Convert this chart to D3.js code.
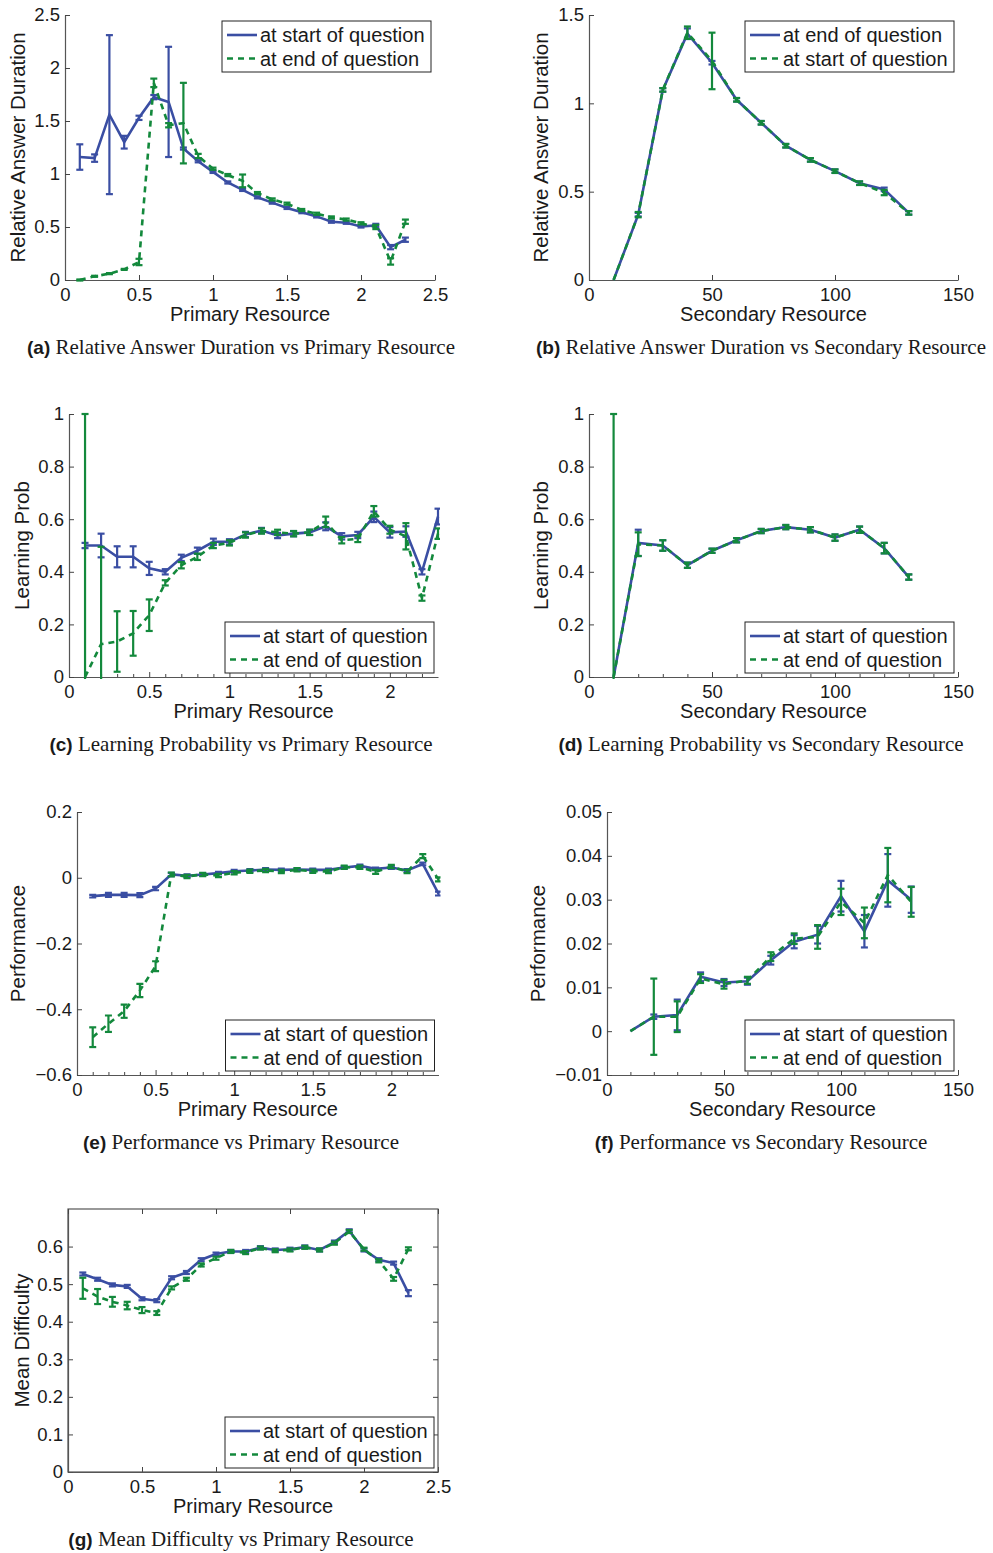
<!DOCTYPE html>
<html>
<head>
<meta charset="utf-8">
<script src="https://cdn.jsdelivr.net/npm/d3@7"></script>
<style>
  body { margin: 0; background: #fff; }
  svg { display: block; }
  .tick text { font-family: "Liberation Sans", Arial, sans-serif; }
</style>
</head>
<body>
<svg id="chart" width="993" height="1553"></svg>
<script>
// x positions
const primaryX = [0.1, 0.2, 0.3, 0.4, 0.5, 0.6, 0.7, 0.8, 0.9, 1.0, 1.1, 1.2,
                  1.3, 1.4, 1.5, 1.6, 1.7, 1.8, 1.9, 2.0, 2.1, 2.2, 2.3];
const secondaryX = [10, 20, 30, 40, 50, 60, 70, 80, 90, 100, 110, 120, 130];

// (a) relative answer duration vs primary
const durPrimStart    = [1.16, 1.15, 1.56, 1.30, 1.53, 1.725, 1.68, 1.24, 1.12, 1.02, 0.92, 0.85,
                         0.78, 0.73, 0.68, 0.64, 0.60, 0.55, 0.54, 0.505, 0.515, 0.31, 0.38];
const durPrimStartErr = [0.12, 0.035, 0.75, 0.06, 0.02, 0.02, 0.52, 0.01, 0.01, 0.01, 0.01, 0.01,
                         0.01, 0.01, 0.01, 0.01, 0.01, 0.01, 0.01, 0.01, 0.015, 0.02, 0.02];
const durPrimEnd      = [0.0, 0.035, 0.06, 0.10, 0.17, 1.86, 1.46, 1.48, 1.17, 1.05, 0.99, 0.935,
                         0.82, 0.76, 0.72, 0.66, 0.625, 0.59, 0.57, 0.535, 0.50, 0.175, 0.55];
const durPrimEndErr   = [0.005, 0.005, 0.005, 0.005, 0.03, 0.04, 0.02, 0.38, 0.02, 0.01, 0.01, 0.06,
                         0.01, 0.01, 0.01, 0.01, 0.01, 0.01, 0.01, 0.01, 0.02, 0.03, 0.02];

// (b) relative answer duration vs secondary
const durSecEnd      = [0, 0.37, 1.076, 1.394, 1.23, 1.02, 0.89, 0.76, 0.68, 0.616, 0.548, 0.513, 0.38];
const durSecEndErr   = [0, 0.01, 0.01, 0.03, 0.01, 0.01, 0.01, 0.01, 0.01, 0.01, 0.01, 0.01, 0.01];
const durSecStart    = [0, 0.37, 1.076, 1.40, 1.24, 1.02, 0.89, 0.76, 0.68, 0.616, 0.548, 0.495, 0.38];
const durSecStartErr = [0, 0.015, 0.01, 0.035, 0.16, 0.01, 0.01, 0.01, 0.01, 0.01, 0.01, 0.015, 0.01];

// (c) learning probability vs primary
const learnPrimStart    = [0.50, 0.50, 0.457, 0.457, 0.413, 0.40, 0.453, 0.48, 0.514, 0.514, 0.542, 0.557,
                           0.538, 0.545, 0.55, 0.573, 0.535, 0.54, 0.609, 0.55, 0.553, 0.40, 0.61];
const learnPrimStartErr = [0.01, 0.045, 0.04, 0.04, 0.025, 0.01, 0.012, 0.012, 0.012, 0.01, 0.01, 0.01,
                           0.01, 0.01, 0.01, 0.015, 0.012, 0.012, 0.02, 0.02, 0.02, 0.01, 0.03];
const learnPrimEnd      = [0.0, 0.125, 0.135, 0.166, 0.235, 0.358, 0.425, 0.457, 0.50, 0.51, 0.54, 0.555,
                           0.55, 0.545, 0.55, 0.59, 0.52, 0.525, 0.63, 0.56, 0.535, 0.30, 0.545];
const learnPrimEndErr   = [1.0, 0.37, 0.115, 0.085, 0.06, 0.01, 0.012, 0.012, 0.01, 0.01, 0.01, 0.01,
                           0.01, 0.01, 0.01, 0.02, 0.012, 0.012, 0.02, 0.015, 0.05, 0.01, 0.02];

// (d) learning probability vs secondary
const learnSecStart    = [0, 0.51, 0.50, 0.425, 0.48, 0.52, 0.555, 0.57, 0.56, 0.53, 0.56, 0.49, 0.38];
const learnSecStartErr = [0, 0.05, 0.02, 0.01, 0.008, 0.008, 0.008, 0.008, 0.01, 0.012, 0.012, 0.02, 0.01];
const learnSecEnd      = [0, 0.505, 0.50, 0.425, 0.48, 0.52, 0.555, 0.57, 0.56, 0.53, 0.56, 0.49, 0.38];
const learnSecEndErr   = [1.0, 0.045, 0.02, 0.01, 0.008, 0.008, 0.008, 0.008, 0.01, 0.012, 0.012, 0.02, 0.01];

// (e) performance vs primary
const perfPrimStart    = [-0.056, -0.052, -0.052, -0.053, -0.033, 0.01, 0.006, 0.01, 0.014, 0.02, 0.022, 0.025,
                          0.024, 0.025, 0.024, 0.024, 0.031, 0.036, 0.027, 0.031, 0.022, 0.042, -0.048];
const perfPrimStartErr = [0.004, 0.006, 0.006, 0.006, 0.005, 0.005, 0.004, 0.004, 0.004, 0.004, 0.004, 0.004,
                          0.004, 0.004, 0.004, 0.004, 0.004, 0.004, 0.004, 0.004, 0.004, 0.004, 0.006];
const perfPrimEnd      = [-0.485, -0.444, -0.406, -0.343, -0.269, 0.01, 0.004, 0.01, 0.007, 0.015, 0.02, 0.022,
                          0.019, 0.024, 0.02, 0.019, 0.032, 0.032, 0.018, 0.034, 0.019, 0.066, -0.005];
const perfPrimEndErr   = [0.03, 0.025, 0.02, 0.02, 0.015, 0.006, 0.005, 0.005, 0.005, 0.005, 0.005, 0.005,
                          0.005, 0.005, 0.005, 0.005, 0.005, 0.005, 0.006, 0.005, 0.005, 0.006, 0.006];

// (f) performance vs secondary
const perfSecStart    = [0, 0.0033, 0.0037, 0.0124, 0.0111, 0.0114, 0.0162, 0.0204, 0.022, 0.0308, 0.0228, 0.0344, 0.030];
const perfSecStartErr = [0, 0.0005, 0.0035, 0.001, 0.0008, 0.0008, 0.001, 0.0015, 0.002, 0.0035, 0.0037, 0.006, 0.003];
const perfSecEnd      = [0, 0.0033, 0.0033, 0.012, 0.0107, 0.0116, 0.017, 0.0211, 0.0215, 0.0295, 0.0247, 0.0356, 0.0295];
const perfSecEndErr   = [0, 0.0087, 0.0035, 0.001, 0.001, 0.0008, 0.001, 0.0012, 0.0027, 0.003, 0.0035, 0.0062, 0.0034];

// (g) mean difficulty vs primary
const diffPrimStart    = [0.527, 0.513, 0.498, 0.494, 0.461, 0.456, 0.517, 0.531, 0.565, 0.58, 0.587, 0.587,
                          0.597, 0.591, 0.593, 0.599, 0.591, 0.612, 0.642, 0.591, 0.565, 0.556, 0.476];
const diffPrimStartErr = [0.004, 0.004, 0.004, 0.004, 0.004, 0.004, 0.004, 0.004, 0.004, 0.004, 0.004, 0.004,
                          0.004, 0.004, 0.004, 0.004, 0.004, 0.004, 0.004, 0.004, 0.004, 0.004, 0.008];
const diffPrimEnd      = [0.489, 0.467, 0.453, 0.443, 0.431, 0.423, 0.49, 0.513, 0.551, 0.569, 0.587, 0.584,
                          0.596, 0.589, 0.591, 0.598, 0.591, 0.609, 0.64, 0.593, 0.562, 0.514, 0.594];
const diffPrimEndErr   = [0.028, 0.02, 0.013, 0.01, 0.008, 0.005, 0.004, 0.004, 0.004, 0.004, 0.004, 0.004,
                          0.004, 0.004, 0.004, 0.004, 0.004, 0.004, 0.004, 0.004, 0.004, 0.005, 0.004];

const primTicks = [0, 0.5, 1, 1.5, 2, 2.5],
      primTicksShort = [0, 0.5, 1, 1.5, 2],
      primMinor = [0.1, 0.2, 0.3, 0.4, 0.6, 0.7, 0.8, 0.9, 1.1, 1.2, 1.3, 1.4, 1.6, 1.7, 1.8, 1.9, 2.1, 2.2],
      secTicks = [0, 50, 100, 150],
      secMinor = [10, 20, 30, 40, 60, 70, 80, 90, 110, 120, 130, 140];

const START = 'at start of question', END = 'at end of question';

const BLUE = '#3a4ea3', GREEN = '#13893c',
      SANS = '"Liberation Sans", Arial, Helvetica, sans-serif',
      SERIF = '"Liberation Serif", "Times New Roman", serif';

const panels = [
  { tag: '(a)', caption: 'Relative Answer Duration vs Primary Resource',
    box: [65, 15, 435, 280], x: [0, 2.5], xTicks: primTicks, y: [0, 2.5], yTicks: [0, 0.5, 1, 1.5, 2, 2.5],
    xLabel: 'Primary Resource', yLabel: 'Relative Answer Duration', yLabelX: 18, legend: 'top',
    xs: primaryX,
    series: [
      { name: START, v: durPrimStart, e: durPrimStartErr, color: BLUE },
      { name: END, v: durPrimEnd, e: durPrimEndErr, color: GREEN, dashed: true }] },
  { tag: '(b)', caption: 'Relative Answer Duration vs Secondary Resource',
    box: [589, 15, 958, 280], x: [0, 150], xTicks: secTicks, y: [0, 1.5], yTicks: [0, 0.5, 1, 1.5],
    xLabel: 'Secondary Resource', yLabel: 'Relative Answer Duration', yLabelX: 541, legend: 'top',
    xs: secondaryX,
    series: [
      { name: END, v: durSecEnd, e: durSecEndErr, color: BLUE },
      { name: START, v: durSecStart, e: durSecStartErr, color: GREEN, dashed: true }] },
  { tag: '(c)', caption: 'Learning Probability vs Primary Resource',
    box: [69, 414, 438, 677], x: [0, 2.3], xTicks: primTicksShort, xMinor: primMinor,
    y: [0, 1], yTicks: [0, 0.2, 0.4, 0.6, 0.8, 1],
    xLabel: 'Primary Resource', yLabel: 'Learning Prob', yLabelX: 22, legend: 'bottom',
    xs: primaryX,
    series: [
      { name: START, v: learnPrimStart, e: learnPrimStartErr, color: BLUE },
      { name: END, v: learnPrimEnd, e: learnPrimEndErr, color: GREEN, dashed: true }] },
  { tag: '(d)', caption: 'Learning Probability vs Secondary Resource',
    box: [589, 414, 958, 677], x: [0, 150], xTicks: secTicks, xMinor: secMinor,
    y: [0, 1], yTicks: [0, 0.2, 0.4, 0.6, 0.8, 1],
    xLabel: 'Secondary Resource', yLabel: 'Learning Prob', yLabelX: 541, legend: 'bottom',
    xs: secondaryX,
    series: [
      { name: START, v: learnSecStart, e: learnSecStartErr, color: BLUE },
      { name: END, v: learnSecEnd, e: learnSecEndErr, color: GREEN, dashed: true }] },
  { tag: '(e)', caption: 'Performance vs Primary Resource',
    box: [77, 812, 438.5, 1075], x: [0, 2.3], xTicks: primTicksShort, xMinor: primMinor,
    y: [-0.6, 0.2], yTicks: [-0.6, -0.4, -0.2, 0, 0.2],
    xLabel: 'Primary Resource', yLabel: 'Performance', yLabelX: 18, legend: 'bottom',
    xs: primaryX,
    series: [
      { name: START, v: perfPrimStart, e: perfPrimStartErr, color: BLUE },
      { name: END, v: perfPrimEnd, e: perfPrimEndErr, color: GREEN, dashed: true }] },
  { tag: '(f)', caption: 'Performance vs Secondary Resource',
    box: [607, 812, 958, 1075], x: [0, 150], xTicks: secTicks, xMinor: secMinor,
    y: [-0.01, 0.05], yTicks: [-0.01, 0, 0.01, 0.02, 0.03, 0.04, 0.05], yFormat: d3.format('.2f'),
    xLabel: 'Secondary Resource', yLabel: 'Performance', yLabelX: 538, legend: 'bottom',
    xs: secondaryX,
    series: [
      { name: START, v: perfSecStart, e: perfSecStartErr, color: BLUE },
      { name: END, v: perfSecEnd, e: perfSecEndErr, color: GREEN, dashed: true }] },
  { tag: '(g)', caption: 'Mean Difficulty vs Primary Resource',
    box: [68, 1209, 438, 1472], x: [0, 2.5], xTicks: primTicks,
    y: [0, 0.7], yTicks: [0, 0.1, 0.2, 0.3, 0.4, 0.5, 0.6],
    xLabel: 'Primary Resource', yLabel: 'Mean Difficulty', yLabelX: 22, legend: 'bottom', frame: true,
    xs: primaryX,
    series: [
      { name: START, v: diffPrimStart, e: diffPrimStartErr, color: BLUE },
      { name: END, v: diffPrimEnd, e: diffPrimEndErr, color: GREEN, dashed: true }] }
];

const svg = d3.select('#chart');

function tickFormat(p) {
  return p.yFormat ? (d => d === 0 ? '0' : p.yFormat(d).replace('-', '\u2212')) : d3.format('');
}

function styleAxis(g) {
  g.select('.domain').attr('stroke', '#555').attr('stroke-width', 1.2);
  g.selectAll('.tick line').attr('stroke', '#444').attr('stroke-width', 1);
  g.selectAll('.tick text').attr('fill', '#1a1a1a').style('font-size', '18.5px');
}

function drawPanel(p, i) {
  const [x0, y0, x1, y1] = p.box;
  const g = svg.append('g');

  const x = d3.scaleLinear().domain(p.x).range([x0, x1]),
        y = d3.scaleLinear().domain(p.y).range([y1, y0]);

  // axes, ticks point inward
  const xAxis = g.append('g').attr('transform', `translate(0,${y1})`)
    .call(d3.axisBottom(x).tickValues(p.xTicks).tickSize(-5).tickSizeOuter(0).tickPadding(7)
      .tickFormat(d3.format('')));
  const yAxis = g.append('g').attr('transform', `translate(${x0},0)`)
    .call(d3.axisLeft(y).tickValues(p.yTicks).tickSize(-5).tickSizeOuter(0).tickPadding(5)
      .tickFormat(tickFormat(p)));
  styleAxis(xAxis);
  styleAxis(yAxis);
  xAxis.selectAll('.tick text').attr('dy', '0.75em');

  if (p.xMinor) {
    g.append('g').attr('transform', `translate(0,${y1})`)
      .call(d3.axisBottom(x).tickValues(p.xMinor).tickSize(-3).tickFormat(''))
      .call(a => a.select('.domain').remove())
      .selectAll('.tick line').attr('stroke', '#444');
  }

  if (p.frame) {
    g.append('rect').attr('x', x0).attr('y', y0).attr('width', x1 - x0).attr('height', y1 - y0)
      .attr('fill', 'none').attr('stroke', '#555').attr('stroke-width', 1.2);
    g.append('g').attr('transform', `translate(0,${y0})`)
      .call(d3.axisTop(x).tickValues(p.xTicks).tickSize(-5).tickFormat(''))
      .call(a => a.select('.domain').remove())
      .selectAll('.tick line').attr('stroke', '#444');
    g.append('g').attr('transform', `translate(${x1},0)`)
      .call(d3.axisRight(y).tickValues(p.yTicks).tickSize(-5).tickFormat(''))
      .call(a => a.select('.domain').remove())
      .selectAll('.tick line').attr('stroke', '#444');
  }

  // labels
  g.append('text')
    .attr('x', (x0 + x1) / 2).attr('y', y1 + 41)
    .attr('text-anchor', 'middle')
    .style('font-family', SANS).style('font-size', '20px').attr('fill', '#1a1a1a')
    .text(p.xLabel);
  g.append('text')
    .attr('transform', `translate(${p.yLabelX},${(y0 + y1) / 2}) rotate(-90)`)
    .attr('text-anchor', 'middle').attr('dy', '0.35em')
    .style('font-family', SANS).style('font-size', '20.5px').attr('fill', '#1a1a1a')
    .text(p.yLabel);

  // data, clipped to the axes
  const clipId = 'clip' + i;
  g.append('clipPath').attr('id', clipId)
    .append('rect').attr('x', x0 - 2).attr('y', y0 - 2)
    .attr('width', x1 - x0 + 4).attr('height', y1 - y0 + 4);
  const plot = g.append('g').attr('clip-path', `url(#${clipId})`);

  const line = d3.line().x(d => x(d.x)).y(d => y(d.v));

  p.series.forEach(s => {
    const pts = p.xs.map((xv, j) => ({ x: xv, v: s.v[j], e: s.e[j] }));
    const sg = plot.append('g');

    sg.append('path')
      .datum(pts)
      .attr('d', line)
      .attr('fill', 'none')
      .attr('stroke', s.color)
      .attr('stroke-width', 2.6)
      .attr('stroke-dasharray', s.dashed ? '6,5' : null);

    const bars = sg.selectAll('g.err').data(pts.filter(d => d.e > 0)).enter()
      .append('g').attr('class', 'err')
      .attr('stroke', s.color).attr('stroke-width', 2.2);
    bars.append('line')
      .attr('x1', d => x(d.x)).attr('x2', d => x(d.x))
      .attr('y1', d => y(d.v - d.e)).attr('y2', d => y(d.v + d.e));
    [-1, 1].forEach(k => {
      bars.append('line')
        .attr('x1', d => x(d.x) - 3.5).attr('x2', d => x(d.x) + 3.5)
        .attr('y1', d => y(d.v + k * d.e)).attr('y2', d => y(d.v + k * d.e));
    });
  });

  // legend
  const lw = 209, lh = 51,
        lx = x1 - 4 - lw,
        ly = p.legend === 'top' ? y0 + 6 : y1 - 4 - lh;
  const lg = g.append('g').attr('transform', `translate(${lx},${ly})`);
  lg.append('rect').attr('width', lw).attr('height', lh)
    .attr('fill', '#fff').attr('stroke', '#222').attr('stroke-width', 1);
  p.series.forEach((s, j) => {
    const yy = 14 + j * 23.5;
    lg.append('line').attr('x1', 5).attr('x2', 35).attr('y1', yy).attr('y2', yy)
      .attr('stroke', s.color).attr('stroke-width', 2.6)
      .attr('stroke-dasharray', s.dashed ? '6,5' : null);
    lg.append('text').attr('x', 38).attr('y', yy).attr('dy', '0.35em')
      .style('font-family', SANS).style('font-size', '20px').attr('fill', '#1a1a1a')
      .text(s.name);
  });

  // caption
  const cap = g.append('text')
    .attr('x', i % 2 === 0 ? 241 : 761).attr('y', y1 + 74)
    .attr('text-anchor', 'middle').attr('fill', '#1a1a1a');
  cap.append('tspan').style('font-family', SANS).style('font-weight', 'bold').style('font-size', '19px')
    .text(p.tag + ' ');
  cap.append('tspan').style('font-family', SERIF).style('font-size', '21px')
    .text(p.caption);
}

panels.forEach(drawPanel);
</script>
</body>
</html>
